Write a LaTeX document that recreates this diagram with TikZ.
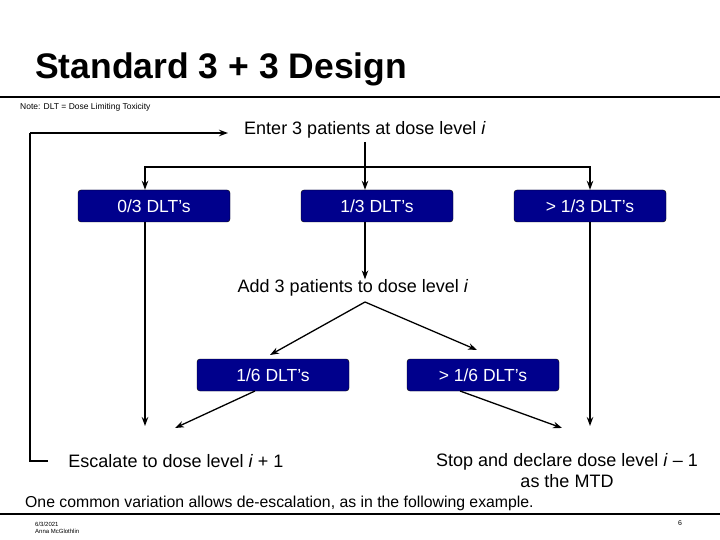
\documentclass[tikz,border=0pt]{standalone}
\usepackage{fontspec}
\setmainfont{Liberation Sans}
\usetikzlibrary{arrows.meta}
\begin{document}
\begin{tikzpicture}[x=1pt,y=-1pt,
  box/.style={draw=black,fill={rgb,255:red,0;green,0;blue,140},rounded corners=3pt,minimum width=152pt,minimum height=32pt,text=white,font=\fontsize{17.5}{20}\selectfont,inner sep=0pt},
  txt/.style={font=\fontsize{18}{21}\selectfont,inner sep=0pt},
  arr/.style={line width=1.3pt,-{Stealth[length=9pt,width=6.5pt]}},
  ln/.style={line width=1.3pt}]
\useasboundingbox (0,0) rectangle (720,540);
\node[anchor=west,font=\bfseries\fontsize{35.5}{40}\selectfont,inner sep=0pt] (title) at (35,69) {Standard 3 + 3 Design};
\draw[line width=2.5pt] (0,97) -- (720,97);
\node[anchor=west,font=\fontsize{8.5}{10}\selectfont,inner sep=0pt] (note) at (20,107) {Note: DLT = Dose Limiting Toxicity};
\node[txt] (enter) at (365,130) {Enter 3 patients at dose level \textit{i}};
\node[box] (b0) at (154,206) {0/3 DLT’s};
\node[box] (b1) at (377,206) {1/3 DLT’s};
\node[box] (b2) at (590,206) {> 1/3 DLT’s};
\node[txt] (add) at (353,288) {Add 3 patients to dose level \textit{i}};
\node[box] (c0) at (273,375) {1/6 DLT’s};
\node[box] (c1) at (483,375) {> 1/6 DLT’s};
\node[txt] (esc) at (176,461) {Escalate to dose level \textit{i} + 1};
\node[txt,align=center] (stop) at (567,471) {Stop and declare dose level \textit{i} – 1\\as the MTD};
\node[anchor=west,font=\fontsize{15.8}{18}\selectfont,inner sep=0pt] (var) at (25,503) {One common variation allows de-escalation, as in the following example.};
\draw[line width=2.5pt] (0,514) -- (720,514);
\node[anchor=west,font=\fontsize{6}{7}\selectfont,inner sep=0pt,align=left] (foot) at (35,528) {6/3/2021\\Anna McGlothlin};
\node[font=\fontsize{7}{8}\selectfont,inner sep=0pt] (pg) at (680,523) {6};
\coordinate (t1) at (365,142);
\coordinate (h) at (365,167);
\draw[ln] (t1) -- (h);
\draw[arr] (h) -| (b0.north -| 145,0);
\draw[arr] (h) -- (b1.north -| 365,0);
\draw[arr] (h) -| (b2.north -| 590,0);
\coordinate (l0) at (145,222);
\draw[arr] (l0) -- (145,426);
\draw[arr] (365,222) -- (add.north -| 365,0);
\draw[arr] (590,222) -- (590,426);
\draw[arr] (365,302) -- (270,355);
\draw[arr] (365,302) -- (477,350);
\draw[arr] (255,391) -- (175,428);
\draw[arr] (460,391) -- (562,428);
\draw[ln] (48,461) -- (30,461) -- (30,133);
\draw[arr] (30,133) -- (228,133);
\end{tikzpicture}
\end{document}
